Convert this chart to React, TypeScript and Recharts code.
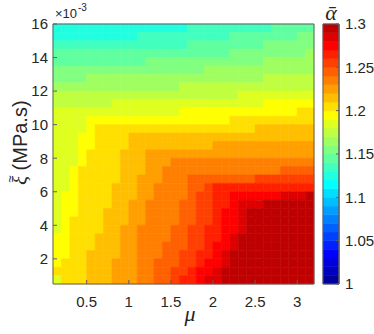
import React from 'react';
import { ComposedChart, XAxis, YAxis, ReferenceArea, Scatter } from 'recharts';

// grid cell edges: mu left to right, xi from the top of the plot down
const muEdges = [0.1, 0.2, 0.3, 0.4, 0.5, 0.6, 0.7, 0.8, 0.9, 1.0, 1.1, 1.2, 1.3, 1.4, 1.5, 1.6, 1.7, 1.8, 1.9, 2.0, 2.1, 2.2, 2.3, 2.4, 2.5, 2.6, 2.7, 2.8, 2.9, 3.0, 3.1, 3.2];
const xiEdges = [16, 15.5, 15, 14.5, 14, 13.5, 13, 12.5, 12, 11.5, 11, 10.5, 10, 9.5, 9, 8.5, 8, 7.5, 7, 6.5, 6, 5.5, 5, 4.5, 4, 3.5, 3, 2.5, 2, 1.5, 1, 0.5];

const muTicks = [0.5, 1, 1.5, 2, 2.5, 3];
const xiTicks = [2, 4, 6, 8, 10, 12, 14, 16];
const alphaTicks = [1, 1.05, 1.1, 1.15, 1.2, 1.25, 1.3];
const alphaLevels = [1, 1.01, 1.02, 1.03, 1.04, 1.05, 1.06, 1.07, 1.08, 1.09, 1.1, 1.11, 1.12, 1.13, 1.14, 1.15, 1.16, 1.17, 1.18, 1.19, 1.2, 1.21, 1.22, 1.23, 1.24, 1.25, 1.26, 1.27, 1.28, 1.29, 1.3];

// alpha-bar, one row per xi cell (top row first)
const alphaRows = [
  [1.125, 1.125, 1.125, 1.125, 1.125, 1.125, 1.125, 1.125, 1.125, 1.125, 1.125, 1.125, 1.125, 1.125, 1.125, 1.125, 1.135, 1.135, 1.135, 1.135, 1.135, 1.135, 1.135, 1.135, 1.135, 1.135, 1.145, 1.145, 1.145, 1.145, 1.145],
  [1.125, 1.125, 1.125, 1.125, 1.125, 1.125, 1.125, 1.125, 1.125, 1.125, 1.135, 1.135, 1.135, 1.135, 1.135, 1.135, 1.135, 1.135, 1.135, 1.135, 1.135, 1.145, 1.145, 1.145, 1.145, 1.145, 1.145, 1.145, 1.145, 1.155, 1.155],
  [1.135, 1.135, 1.135, 1.135, 1.135, 1.135, 1.135, 1.135, 1.135, 1.135, 1.135, 1.135, 1.135, 1.135, 1.135, 1.135, 1.145, 1.145, 1.145, 1.145, 1.145, 1.145, 1.145, 1.145, 1.145, 1.155, 1.155, 1.155, 1.155, 1.155, 1.155],
  [1.145, 1.145, 1.145, 1.145, 1.145, 1.145, 1.145, 1.145, 1.145, 1.145, 1.145, 1.145, 1.145, 1.145, 1.145, 1.145, 1.145, 1.145, 1.145, 1.145, 1.145, 1.155, 1.155, 1.155, 1.155, 1.155, 1.155, 1.155, 1.155, 1.155, 1.165],
  [1.145, 1.145, 1.145, 1.145, 1.145, 1.145, 1.145, 1.145, 1.145, 1.145, 1.145, 1.155, 1.155, 1.155, 1.155, 1.155, 1.155, 1.155, 1.155, 1.155, 1.155, 1.155, 1.155, 1.155, 1.155, 1.165, 1.165, 1.165, 1.165, 1.165, 1.165],
  [1.155, 1.155, 1.155, 1.155, 1.155, 1.155, 1.155, 1.155, 1.155, 1.155, 1.155, 1.155, 1.155, 1.155, 1.155, 1.155, 1.155, 1.155, 1.165, 1.165, 1.165, 1.165, 1.165, 1.165, 1.165, 1.165, 1.165, 1.165, 1.165, 1.165, 1.165],
  [1.155, 1.155, 1.155, 1.155, 1.165, 1.165, 1.165, 1.165, 1.165, 1.165, 1.165, 1.165, 1.165, 1.165, 1.165, 1.165, 1.165, 1.165, 1.165, 1.165, 1.165, 1.165, 1.165, 1.165, 1.165, 1.175, 1.175, 1.175, 1.175, 1.175, 1.175],
  [1.165, 1.165, 1.165, 1.165, 1.165, 1.165, 1.165, 1.165, 1.165, 1.165, 1.165, 1.165, 1.165, 1.165, 1.165, 1.175, 1.175, 1.175, 1.175, 1.175, 1.175, 1.175, 1.175, 1.175, 1.175, 1.175, 1.175, 1.175, 1.175, 1.175, 1.175],
  [1.175, 1.175, 1.175, 1.175, 1.175, 1.175, 1.175, 1.175, 1.175, 1.175, 1.175, 1.175, 1.175, 1.175, 1.175, 1.175, 1.175, 1.175, 1.175, 1.175, 1.175, 1.175, 1.185, 1.185, 1.185, 1.185, 1.185, 1.185, 1.185, 1.185, 1.185],
  [1.175, 1.175, 1.175, 1.175, 1.175, 1.175, 1.175, 1.185, 1.185, 1.185, 1.185, 1.185, 1.185, 1.185, 1.185, 1.185, 1.185, 1.185, 1.185, 1.185, 1.185, 1.185, 1.185, 1.185, 1.185, 1.195, 1.195, 1.195, 1.195, 1.195, 1.195],
  [1.185, 1.185, 1.185, 1.185, 1.185, 1.185, 1.185, 1.185, 1.185, 1.185, 1.185, 1.185, 1.185, 1.185, 1.185, 1.195, 1.195, 1.195, 1.195, 1.195, 1.195, 1.195, 1.195, 1.195, 1.195, 1.195, 1.195, 1.195, 1.195, 1.205, 1.205],
  [1.185, 1.185, 1.185, 1.185, 1.195, 1.195, 1.195, 1.195, 1.195, 1.195, 1.195, 1.195, 1.195, 1.195, 1.195, 1.195, 1.195, 1.195, 1.195, 1.195, 1.195, 1.205, 1.205, 1.205, 1.205, 1.205, 1.205, 1.205, 1.205, 1.205, 1.205],
  [1.185, 1.185, 1.185, 1.185, 1.195, 1.205, 1.205, 1.205, 1.205, 1.205, 1.205, 1.205, 1.205, 1.205, 1.205, 1.205, 1.205, 1.205, 1.205, 1.205, 1.205, 1.205, 1.205, 1.205, 1.215, 1.215, 1.215, 1.215, 1.215, 1.215, 1.215],
  [1.185, 1.185, 1.185, 1.195, 1.195, 1.205, 1.205, 1.205, 1.205, 1.215, 1.215, 1.215, 1.215, 1.215, 1.215, 1.215, 1.215, 1.215, 1.215, 1.215, 1.215, 1.215, 1.215, 1.215, 1.215, 1.215, 1.215, 1.215, 1.215, 1.215, 1.215],
  [1.185, 1.185, 1.185, 1.195, 1.195, 1.205, 1.205, 1.205, 1.205, 1.215, 1.215, 1.215, 1.215, 1.215, 1.215, 1.215, 1.215, 1.215, 1.215, 1.225, 1.225, 1.225, 1.225, 1.225, 1.225, 1.225, 1.225, 1.225, 1.225, 1.225, 1.225],
  [1.185, 1.185, 1.185, 1.195, 1.205, 1.205, 1.205, 1.205, 1.215, 1.215, 1.215, 1.225, 1.225, 1.225, 1.225, 1.225, 1.225, 1.225, 1.225, 1.225, 1.225, 1.225, 1.225, 1.225, 1.225, 1.225, 1.225, 1.225, 1.225, 1.225, 1.225],
  [1.185, 1.185, 1.185, 1.195, 1.205, 1.205, 1.205, 1.205, 1.215, 1.215, 1.215, 1.225, 1.225, 1.225, 1.235, 1.235, 1.235, 1.235, 1.235, 1.235, 1.235, 1.235, 1.235, 1.235, 1.235, 1.235, 1.235, 1.235, 1.235, 1.235, 1.235],
  [1.185, 1.185, 1.195, 1.205, 1.205, 1.205, 1.205, 1.205, 1.215, 1.215, 1.215, 1.225, 1.225, 1.235, 1.235, 1.235, 1.235, 1.235, 1.235, 1.235, 1.235, 1.235, 1.235, 1.235, 1.235, 1.235, 1.235, 1.245, 1.245, 1.245, 1.245],
  [1.185, 1.185, 1.195, 1.205, 1.205, 1.205, 1.205, 1.205, 1.215, 1.215, 1.225, 1.225, 1.225, 1.235, 1.235, 1.235, 1.245, 1.245, 1.245, 1.245, 1.245, 1.245, 1.245, 1.245, 1.255, 1.255, 1.255, 1.255, 1.255, 1.255, 1.255],
  [1.185, 1.185, 1.195, 1.205, 1.205, 1.205, 1.205, 1.215, 1.215, 1.215, 1.225, 1.225, 1.235, 1.235, 1.235, 1.235, 1.245, 1.245, 1.255, 1.265, 1.265, 1.265, 1.265, 1.265, 1.265, 1.265, 1.265, 1.265, 1.265, 1.265, 1.265],
  [1.185, 1.195, 1.195, 1.205, 1.205, 1.205, 1.205, 1.215, 1.215, 1.215, 1.225, 1.225, 1.235, 1.235, 1.235, 1.235, 1.245, 1.255, 1.255, 1.265, 1.265, 1.275, 1.275, 1.275, 1.275, 1.275, 1.275, 1.285, 1.285, 1.285, 1.295],
  [1.185, 1.195, 1.195, 1.205, 1.205, 1.205, 1.205, 1.215, 1.215, 1.225, 1.225, 1.235, 1.235, 1.235, 1.235, 1.245, 1.245, 1.255, 1.255, 1.265, 1.265, 1.275, 1.285, 1.285, 1.285, 1.295, 1.295, 1.295, 1.295, 1.295, 1.295],
  [1.185, 1.195, 1.195, 1.205, 1.205, 1.205, 1.215, 1.215, 1.215, 1.225, 1.225, 1.235, 1.235, 1.235, 1.235, 1.245, 1.245, 1.255, 1.255, 1.265, 1.275, 1.275, 1.285, 1.295, 1.295, 1.295, 1.295, 1.295, 1.295, 1.295, 1.295],
  [1.185, 1.195, 1.205, 1.205, 1.205, 1.205, 1.215, 1.215, 1.215, 1.225, 1.225, 1.235, 1.235, 1.235, 1.235, 1.245, 1.245, 1.255, 1.255, 1.265, 1.275, 1.275, 1.285, 1.295, 1.295, 1.295, 1.295, 1.295, 1.295, 1.295, 1.295],
  [1.185, 1.195, 1.205, 1.205, 1.205, 1.205, 1.215, 1.215, 1.225, 1.225, 1.235, 1.235, 1.235, 1.235, 1.245, 1.245, 1.255, 1.255, 1.265, 1.265, 1.275, 1.275, 1.285, 1.295, 1.295, 1.295, 1.295, 1.295, 1.295, 1.295, 1.295],
  [1.195, 1.195, 1.205, 1.205, 1.205, 1.215, 1.215, 1.215, 1.225, 1.225, 1.235, 1.235, 1.235, 1.235, 1.245, 1.245, 1.255, 1.255, 1.265, 1.265, 1.275, 1.285, 1.295, 1.295, 1.295, 1.295, 1.295, 1.295, 1.295, 1.295, 1.295],
  [1.195, 1.195, 1.205, 1.205, 1.205, 1.215, 1.215, 1.215, 1.225, 1.225, 1.235, 1.235, 1.235, 1.245, 1.245, 1.245, 1.255, 1.255, 1.265, 1.275, 1.275, 1.285, 1.295, 1.295, 1.295, 1.295, 1.295, 1.295, 1.295, 1.295, 1.295],
  [1.195, 1.195, 1.205, 1.205, 1.215, 1.215, 1.215, 1.215, 1.225, 1.225, 1.235, 1.235, 1.235, 1.245, 1.245, 1.255, 1.255, 1.265, 1.265, 1.275, 1.285, 1.295, 1.295, 1.295, 1.295, 1.295, 1.295, 1.295, 1.295, 1.295, 1.295],
  [1.195, 1.205, 1.205, 1.205, 1.215, 1.215, 1.215, 1.225, 1.225, 1.225, 1.235, 1.235, 1.245, 1.245, 1.245, 1.255, 1.255, 1.265, 1.275, 1.275, 1.285, 1.295, 1.295, 1.295, 1.295, 1.295, 1.295, 1.295, 1.295, 1.295, 1.295],
  [1.205, 1.205, 1.205, 1.205, 1.215, 1.215, 1.215, 1.225, 1.225, 1.225, 1.235, 1.235, 1.245, 1.245, 1.255, 1.255, 1.265, 1.275, 1.275, 1.285, 1.295, 1.295, 1.295, 1.295, 1.295, 1.295, 1.295, 1.295, 1.295, 1.295, 1.295],
  [1.185, 1.205, 1.205, 1.205, 1.215, 1.215, 1.215, 1.225, 1.225, 1.225, 1.235, 1.235, 1.245, 1.245, 1.255, 1.265, 1.265, 1.275, 1.285, 1.285, 1.295, 1.295, 1.295, 1.295, 1.295, 1.295, 1.295, 1.295, 1.295, 1.295, 1.295],
];

// MATLAB jet colormap with m entries
function jet(m: number): string[] {
  const n = Math.ceil(m / 4);
  const u: number[] = [];
  for (let i = 1; i <= n; i++) u.push(i / n);
  for (let i = 1; i < n; i++) u.push(1);
  for (let i = n; i >= 1; i--) u.push(i / n);
  const off = Math.ceil(n / 2) - (m % 4 === 1 ? 1 : 0);
  const rgb = Array.from({ length: m }, () => [0, 0, 0]);
  u.forEach((val, k) => {
    const g = off + k;
    if (g < m) rgb[g][1] = val;
    if (g + n < m) rgb[g + n][0] = val;
    if (g - n >= 0) rgb[g - n][2] = val;
  });
  return rgb.map((c) => '#' + c.map((v) => Math.round(v * 255).toString(16).padStart(2, '0')).join(''));
}

const palette = jet(alphaLevels.length - 1);
const colorFor = (v: number) => {
  const idx = alphaLevels.findIndex((lv, i) => i < alphaLevels.length - 1 && v >= lv && v < alphaLevels[i + 1]);
  return palette[idx < 0 ? palette.length - 1 : idx];
};

const cells = alphaRows.flatMap((row, r) =>
  row.map((v, c) => ({
    x1: muEdges[c],
    x2: muEdges[c + 1],
    y1: xiEdges[r + 1],
    y2: xiEdges[r],
    mu: (muEdges[c] + muEdges[c + 1]) / 2,
    xi: (xiEdges[r] + xiEdges[r + 1]) / 2,
    alpha: v,
    fill: colorFor(v),
  }))
);
const barAnchor = [{ x: 0.5, a: 1.15 }];

const axisColor = '#5f5f5f';
const textColor = '#262626';
const tickFont = { fill: textColor, fontSize: 15, fontFamily: 'Liberation Sans, Arial, sans-serif' };
const noDot = () => <g />;

export default function App() {
  return (
    <div style={{ position: 'absolute', left: 0, top: 0, width: 374, height: 334, background: '#fff' }}>
      <div style={{ position: 'absolute', left: 0, top: 0 }}>
        <ComposedChart width={374} height={334} margin={{ top: 23, right: 59, bottom: 20, left: 13 }}>
          <Scatter data={cells} dataKey="xi" xAxisId="b" yAxisId="l" shape={noDot} isAnimationActive={false} />
          {cells.map((c, i) => (
            <ReferenceArea
              key={i}
              xAxisId="b"
              yAxisId="l"
              x1={c.x1}
              x2={c.x2}
              y1={c.y1}
              y2={c.y2}
              fill={c.fill}
              fillOpacity={1}
              stroke={c.fill}
              strokeWidth={0.6}
            />
          ))}
          <XAxis
            xAxisId="b"
            dataKey="mu"
            type="number"
            domain={[0.1, 3.2]}
            allowDataOverflow
            ticks={muTicks}
            interval={0}
            height={30}
            tickSize={-4}
            tickMargin={16}
            stroke={axisColor}
            tick={tickFont}
          />
          <XAxis
            xAxisId="t"
            dataKey="mu"
            orientation="top"
            type="number"
            domain={[0.1, 3.2]}
            allowDataOverflow
            ticks={muTicks}
            interval={0}
            height={1}
            tickSize={-4}
            tick={false}
            stroke={axisColor}
          />
          <YAxis
            yAxisId="l"
            dataKey="xi"
            type="number"
            domain={[0.5, 16]}
            allowDataOverflow
            ticks={xiTicks}
            interval={0}
            width={40}
            tickSize={-4}
            tickMargin={9}
            stroke={axisColor}
            tick={tickFont}
          />
          <YAxis
            yAxisId="r"
            dataKey="xi"
            orientation="right"
            type="number"
            domain={[0.5, 16]}
            allowDataOverflow
            ticks={xiTicks}
            interval={0}
            width={1}
            tickSize={-4}
            tick={false}
            stroke={axisColor}
          />
          <Scatter data={cells} dataKey="xi" xAxisId="t" yAxisId="r" shape={noDot} isAnimationActive={false} />
        </ComposedChart>
      </div>

      {/* colorbar */}
      <div style={{ position: 'absolute', left: 0, top: 0 }}>
        <ComposedChart width={374} height={334} margin={{ top: 24, right: 0, bottom: 50, left: 323 }}>
          <Scatter data={barAnchor} dataKey="a" xAxisId="cb" yAxisId="cb" shape={noDot} isAnimationActive={false} />
          {alphaLevels.slice(0, -1).map((lv, k) => (
            <ReferenceArea
              key={k}
              xAxisId="cb"
              yAxisId="cb"
              x1={0}
              x2={1}
              y1={lv}
              y2={alphaLevels[k + 1]}
              fill={palette[k]}
              fillOpacity={1}
              stroke={palette[k]}
              strokeWidth={0.6}
            />
          ))}
          <ReferenceArea xAxisId="cb" yAxisId="cb" x1={0} x2={1} y1={1} y2={1.3} fill="none" stroke={axisColor} />
          <XAxis xAxisId="cb" dataKey="x" type="number" domain={[0, 1]} allowDataOverflow hide />
          <YAxis
            yAxisId="cb"
            dataKey="a"
            orientation="right"
            type="number"
            domain={[1, 1.3]}
            allowDataOverflow
            ticks={alphaTicks}
            interval={0}
            width={35}
            tickSize={-3}
            tickMargin={9}
            stroke={axisColor}
            tick={tickFont}
          />
        </ComposedChart>
      </div>

      <svg width={374} height={334} style={{ position: 'absolute', left: 0, top: 0, pointerEvents: 'none' }}>
        <text x={55} y={18} fontSize={13} fill={textColor} fontFamily="Liberation Sans, Arial, sans-serif">×10</text>
        <text x={78} y={11} fontSize={10} fill={textColor} fontFamily="Liberation Sans, Arial, sans-serif">-3</text>
        <g transform="rotate(-90)">
          <text x={-185} y={27} fontSize={20} fill={textColor} fontFamily="Liberation Sans, Arial, sans-serif">
            <tspan fontFamily="Liberation Serif, DejaVu Serif, serif" fontStyle="italic" fontSize={21}>ξ</tspan>
            {' (MPa.s)'}
          </text>
          <text x={-179} y={14} fontSize={13} textAnchor="middle" fill={textColor} fontFamily="Liberation Sans, Arial, sans-serif">~</text>
        </g>
        <text x={190} y={321} textAnchor="middle" fontSize={22} fill={textColor} fontFamily="Liberation Serif, DejaVu Serif, serif" fontStyle="italic">μ</text>
        <text x={331} y={20} textAnchor="middle" fontSize={22} fill={textColor} fontFamily="Liberation Serif, DejaVu Serif, serif" fontStyle="italic">{'α\u0304'}</text>
      </svg>
    </div>
  );
}
